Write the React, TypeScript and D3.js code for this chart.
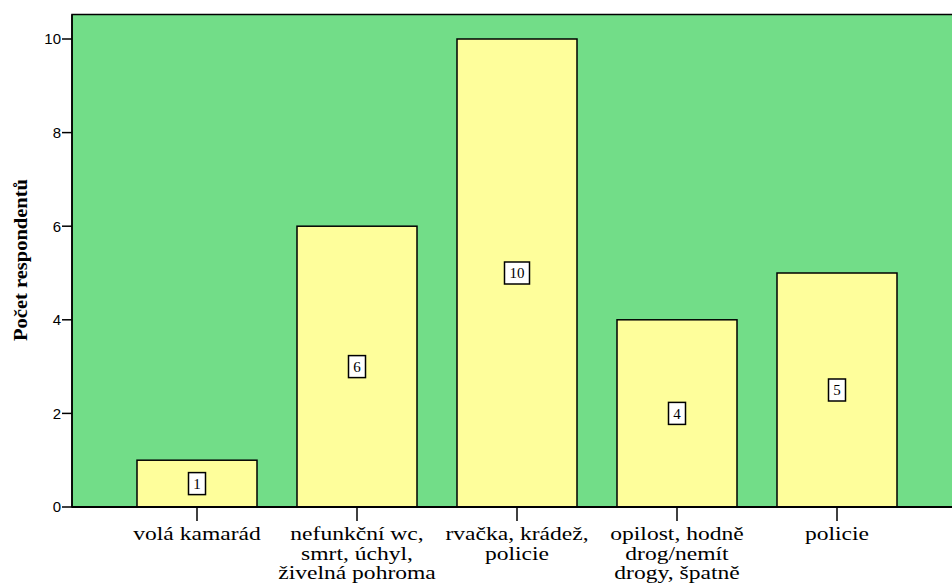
import React from "react";
import * as d3 from "d3";

const categories: string[][] = [
  ["volá kamarád"],
  ["nefunkční wc,", "smrt, úchyl,", "živelná pohroma"],
  ["rvačka, krádež,", "policie"],
  ["opilost, hodně", "drog/nemít", "drogy, špatně"],
  ["policie"],
];
const values: number[] = [1, 6, 10, 4, 5];
const yTicks: number[] = [0, 2, 4, 6, 8, 10];
const yTitle = "Počet respondentů";

export default function App() {
  const W = 952, H = 588;
  const plotLeft = 72, plotTop = 14.5, plotBottom = 507;
  const y = d3.scaleLinear().domain([0, 10]).range([plotBottom, 39]);
  const x = d3
    .scaleBand<number>()
    .domain(values.map((_, i) => i))
    .range([117, 917])
    .paddingInner(0.25)
    .paddingOuter(0.125);
  const bw = x.bandwidth();
  const serif = "'Liberation Serif', 'Times New Roman', serif";
  const sans = "'Liberation Sans', Arial, sans-serif";
  return (
    <svg width={W} height={H} style={{ position: "absolute", left: 0, top: 0, background: "#fff" }}>
      <rect x={plotLeft} y={plotTop} width={W - plotLeft + 10} height={plotBottom - plotTop} fill="#72DD88" stroke="#000" strokeWidth={1.5} />
      {values.map((v, i) => (
        <rect key={"b" + i} x={x(i)!} y={y(v)} width={bw} height={y(0) - y(v)} fill="#FEFE9B" stroke="#000" strokeWidth={1.5} />
      ))}
      <line x1={plotLeft} x2={W} y1={plotBottom} y2={plotBottom} stroke="#000" strokeWidth={2} />
      <line x1={plotLeft} x2={plotLeft} y1={plotTop} y2={plotBottom} stroke="#000" strokeWidth={1.5} />
      {yTicks.map((t) => (
        <g key={"t" + t}>
          <line x1={plotLeft - 10} x2={plotLeft} y1={y(t)} y2={y(t)} stroke="#000" strokeWidth={1.5} />
          <text x={plotLeft - 11} y={y(t)} dy="0.36em" textAnchor="end" fontFamily={sans} fontSize={15}>
            {t}
          </text>
        </g>
      ))}
      <text
        transform={`translate(27,${260}) rotate(-90) scale(1.08,1)`}
        textAnchor="middle"
        fontFamily={serif}
        fontWeight="bold"
        fontSize={19}
      >
        {yTitle}
      </text>
      {categories.map((lines, i) => {
        const cx = x(i)! + bw / 2;
        return (
          <g key={"c" + i}>
            <line x1={cx} x2={cx} y1={plotBottom} y2={plotBottom + 14} stroke="#000" strokeWidth={1.5} />
            {lines.map((l, j) => (
              <text
                key={j}
                transform={`translate(${cx},${540 + j * 19.5}) scale(1.24,1)`}
                textAnchor="middle"
                fontFamily={serif}
                fontSize={19}
              >
                {l}
              </text>
            ))}
          </g>
        );
      })}
      {values.map((v, i) => {
        const cx = x(i)! + bw / 2;
        const cy = y(v / 2);
        const w = String(v).length > 1 ? 25 : 17;
        return (
          <g key={"v" + i}>
            <rect x={cx - w / 2} y={cy - 11} width={w} height={22} fill="#fff" stroke="#000" strokeWidth={1.5} />
            <text x={cx} y={cy} dy="0.36em" textAnchor="middle" fontFamily={serif} fontSize={15}>
              {v}
            </text>
          </g>
        );
      })}
    </svg>
  );
}
